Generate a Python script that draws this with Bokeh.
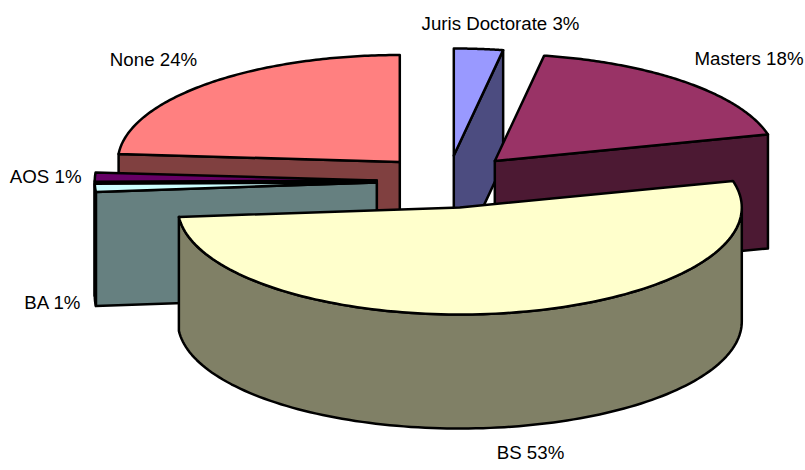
import numpy as np
from bokeh.plotting import figure
from bokeh.embed import file_html
from bokeh.resources import INLINE
from bokeh.core.properties import value

# ---- data -----------------------------------------------------------------
categories = ["Juris Doctorate", "Masters", "BS", "BA", "AOS", "None"]
shares = [2.8, 18.2, 52.6, 1.2, 1.4, 23.8]
shown_pct = ["3%", "18%", "53%", "1%", "1%", "24%"]

# ---- styles and layout ----------------------------------------------------
top_colors = ["#9999FF", "#993366", "#FFFFCC", "#CCFFFF", "#660066", "#FF8080"]
side_colors = ["#4C4C80", "#4C1933", "#808066", "#668080", "#330033", "#804040"]
apex_x = [453.3, 494.3, 459.3, 376.3, 376.3, 399.3]
apex_y = [155, 160.5, 207, 182, 180, 161.5]
label_x = [500, 748.5, 530, 81, 81, 153]
label_y = [22.5, 58, 451.5, 302, 176, 59]
label_align = ["center", "center", "center", "right", "right", "center"]
draw_order = [5, 4, 3, 0, 1, 2]
RX, RY, DEPTH = 282, 107, 114
LW = 2.5

p = figure(width=805, height=470, x_range=(0, 805), y_range=(470, 0),
           output_backend="svg", toolbar_location=None,
           min_border=0, min_border_left=0, min_border_right=0,
           min_border_top=0, min_border_bottom=0, outline_line_color=None)
p.axis.visible = False
p.grid.visible = False
p.background_fill_color = "white"
p.border_fill_color = "white"


def arc(cx, cy, a0, a1, n=120):
    t = np.radians(np.linspace(a0, a1, n))
    return cx + RX * np.sin(t), cy - RY * np.cos(t)


def face(xs, ys, color):
    p.patch(list(xs), list(ys), fill_color=color, line_color="black",
            line_width=LW, line_join="round")


edges = np.concatenate([[0], np.cumsum(shares)]) / sum(shares) * 360
for i in draw_order:
    a0, a1 = edges[i], edges[i + 1]
    cx, cy = apex_x[i], apex_y[i]
    xs, ys = arc(cx, cy, a0, a1)
    # cut faces that look towards the viewer
    if a0 >= 180:
        ex, ey = xs[0], ys[0]
        face([ex, cx, cx, ex], [ey, cy, cy + DEPTH, ey + DEPTH], side_colors[i])
    if a1 <= 180:
        ex, ey = xs[-1], ys[-1]
        face([ex, cx, cx, ex], [ey, cy, cy + DEPTH, ey + DEPTH], side_colors[i])
    # outer rim, lower half of the ellipse only
    r0, r1 = max(a0, 90), min(a1, 270)
    if r1 > r0:
        rx_, ry_ = arc(cx, cy, r0, r1)
        face(np.concatenate([rx_, rx_[::-1]]),
             np.concatenate([ry_, ry_[::-1] + DEPTH]), side_colors[i])
    # top face
    face(np.concatenate([[cx], xs]), np.concatenate([[cy], ys]), top_colors[i])

for i in range(len(categories)):
    p.text([label_x[i]], [label_y[i]], text=[f"{categories[i]} {shown_pct[i]}"],
           text_font=value("Liberation Sans"), text_font_size="18.7px",
           text_color="black", text_align=label_align[i],
           text_baseline="middle")

open("out.html", "w").write(file_html(p, INLINE))
